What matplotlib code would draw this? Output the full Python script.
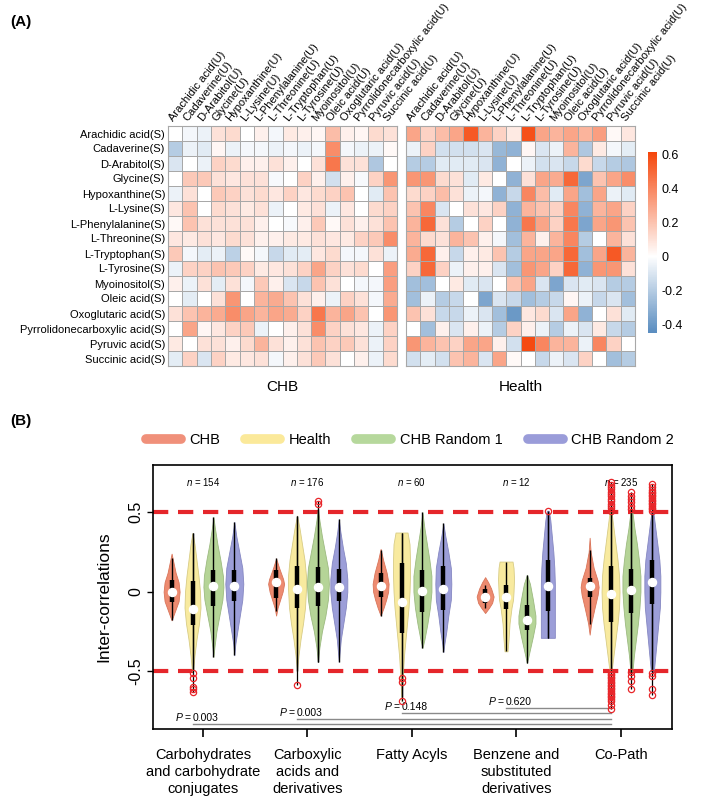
import numpy as np
import matplotlib
matplotlib.use('Agg')
import matplotlib.pyplot as plt
from matplotlib.colors import LinearSegmentedColormap, Normalize
from matplotlib.cm import ScalarMappable
from matplotlib.lines import Line2D

plt.rcParams['font.family'] = ['Liberation Sans', 'DejaVu Sans']
plt.rcParams['lines.scale_dashes'] = False
plt.rcParams['mathtext.fontset'] = 'custom'
plt.rcParams['mathtext.it'] = 'Liberation Sans:italic'
plt.rcParams['mathtext.rm'] = 'Liberation Sans'

# ---------------- data: heatmaps ----------------
metabolites = ['Arachidic acid', 'Cadaverine', 'D-Arabitol', 'Glycine', 'Hypoxanthine',
               'L-Lysine', 'L-Phenylalanine', 'L-Threonine', 'L-Tryptophan', 'L-Tyrosine',
               'Myoinositol', 'Oleic acid', 'Oxoglutaric acid', 'Pyrrolidonecarboxylic acid',
               'Pyruvic acid', 'Succinic acid']
row_labels = [m + '(S)' for m in metabolites]
col_labels = [m + '(U)' for m in metabolites]

chb = np.array([
    [0.00, -0.03, -0.05, 0.10, 0.12, 0.00, 0.05, -0.03, 0.07, 0.05, 0.03, 0.22, 0.05, 0.03, 0.12, 0.10],
    [-0.20, -0.05, -0.08, 0.03, -0.05, -0.03, -0.03, -0.05, -0.03, -0.05, -0.03, 0.38, -0.03, -0.05, -0.05, 0.02],
    [-0.10, 0.00, -0.05, 0.15, 0.12, 0.05, 0.05, 0.10, 0.05, 0.00, 0.10, 0.45, 0.10, 0.10, -0.22, 0.00],
    [0.00, 0.18, 0.18, 0.10, 0.08, 0.10, 0.10, -0.02, 0.00, 0.15, 0.05, -0.12, 0.05, -0.02, 0.15, 0.35],
    [-0.05, 0.10, 0.00, 0.18, 0.15, 0.10, 0.12, 0.08, 0.15, 0.08, 0.12, 0.15, 0.20, 0.00, -0.08, 0.20],
    [0.08, 0.20, 0.00, 0.12, 0.10, 0.07, 0.10, -0.05, 0.00, 0.07, 0.10, -0.05, 0.08, 0.00, 0.12, 0.15],
    [0.02, 0.20, 0.10, 0.10, 0.10, 0.10, 0.05, 0.00, -0.02, 0.05, 0.18, 0.02, 0.10, 0.05, 0.10, 0.20],
    [0.08, 0.07, 0.10, 0.08, 0.12, 0.10, 0.05, 0.05, 0.07, 0.07, 0.10, 0.08, 0.07, 0.15, 0.18, 0.38],
    [0.18, -0.03, -0.07, -0.05, -0.18, 0.02, -0.03, -0.15, -0.08, -0.07, 0.08, 0.12, -0.03, -0.03, 0.10, -0.05],
    [-0.05, 0.15, 0.15, 0.20, 0.18, 0.15, 0.07, 0.08, 0.10, 0.15, 0.30, 0.15, 0.10, 0.12, 0.00, 0.32],
    [0.05, -0.05, 0.10, -0.07, 0.10, -0.03, 0.18, 0.05, -0.10, -0.15, 0.20, 0.10, 0.00, -0.03, -0.03, 0.32],
    [0.00, -0.07, 0.00, 0.10, 0.35, 0.00, 0.25, 0.28, 0.20, 0.10, 0.05, -0.05, 0.15, 0.10, -0.03, 0.28],
    [0.10, 0.20, 0.25, 0.28, 0.38, 0.30, 0.25, 0.30, 0.28, 0.15, 0.45, 0.25, 0.30, 0.20, 0.00, 0.35],
    [0.00, 0.30, 0.03, 0.08, 0.15, 0.18, -0.05, 0.00, 0.05, 0.10, 0.38, 0.15, 0.10, 0.08, -0.05, 0.15],
    [0.07, 0.00, 0.10, 0.10, 0.05, 0.12, 0.25, 0.10, 0.05, 0.10, 0.20, 0.15, 0.18, 0.10, -0.05, 0.15],
    [-0.07, 0.15, -0.10, 0.15, 0.07, 0.08, 0.10, -0.03, 0.05, 0.10, 0.18, 0.10, 0.00, 0.05, -0.05, 0.12],
])

health = np.array([
    [0.30, 0.15, 0.22, 0.30, 0.55, 0.25, 0.15, 0.07, 0.58, 0.30, 0.25, 0.30, 0.25, 0.32, 0.02, 0.08],
    [-0.05, 0.15, -0.12, -0.12, -0.12, -0.10, -0.28, -0.30, 0.03, -0.10, -0.05, 0.25, -0.22, 0.07, -0.03, -0.07],
    [-0.20, -0.20, -0.08, -0.08, -0.08, -0.10, -0.30, 0.00, -0.05, -0.12, -0.10, -0.15, 0.12, -0.15, -0.20, -0.22],
    [0.35, 0.35, 0.12, 0.10, -0.08, 0.07, 0.00, -0.30, 0.10, 0.30, 0.28, 0.50, -0.35, 0.20, 0.30, 0.38],
    [0.12, 0.15, 0.22, 0.10, -0.05, -0.03, -0.30, -0.15, 0.40, 0.22, -0.08, 0.30, -0.25, 0.30, -0.05, -0.08],
    [0.20, 0.40, -0.10, 0.00, 0.10, 0.08, 0.15, -0.30, 0.25, 0.20, 0.15, 0.40, -0.30, 0.25, 0.30, 0.15],
    [0.25, 0.50, 0.10, -0.20, 0.00, 0.15, 0.00, -0.30, 0.45, 0.30, 0.15, 0.45, -0.35, 0.30, 0.35, 0.20],
    [0.25, 0.12, 0.10, 0.25, 0.20, 0.05, -0.03, -0.25, 0.25, 0.05, 0.25, 0.40, -0.20, 0.00, 0.25, 0.10],
    [0.28, 0.50, 0.05, -0.15, 0.05, 0.07, 0.20, -0.20, 0.30, 0.30, 0.30, 0.50, -0.25, 0.30, 0.55, 0.25],
    [0.15, 0.50, 0.15, -0.05, 0.05, 0.05, -0.10, -0.25, 0.35, 0.30, 0.15, 0.50, -0.30, 0.35, 0.35, 0.10],
    [-0.25, -0.25, 0.00, 0.07, -0.08, -0.10, 0.00, 0.20, 0.30, -0.10, -0.35, -0.10, -0.08, -0.10, -0.20, -0.20],
    [-0.25, -0.05, -0.20, -0.15, 0.00, -0.35, -0.10, -0.15, -0.25, -0.20, -0.15, 0.03, -0.05, -0.15, -0.10, -0.25],
    [0.20, 0.10, -0.15, -0.15, -0.05, -0.10, -0.25, -0.40, 0.08, 0.12, -0.10, 0.30, -0.30, 0.00, 0.10, -0.08],
    [0.00, -0.25, 0.05, -0.10, 0.05, -0.05, -0.20, 0.15, 0.05, -0.05, -0.20, -0.05, -0.10, 0.07, -0.15, -0.20],
    [0.35, 0.25, 0.20, 0.15, 0.30, 0.30, 0.05, -0.12, 0.60, 0.40, 0.25, 0.25, -0.05, 0.40, 0.15, 0.00],
    [-0.12, -0.07, -0.12, 0.20, 0.25, -0.10, 0.30, 0.02, 0.00, -0.15, -0.05, -0.10, 0.15, 0.00, -0.25, -0.20],
])
cbar_ticks = [-0.4, -0.2, 0, 0.2, 0.4, 0.6]
cbar_ticklabels = ['-0.4', '-0.2', '0', '0.2', '0.4', '0.6']

# ---------------- data: violins ----------------
groups = ['Carbohydrates\nand carbohydrate\nconjugates', 'Carboxylic\nacids and\nderivatives',
          'Fatty Acyls', 'Benzene and\nsubstituted\nderivatives', 'Co-Path']
series = ['CHB', 'Health', 'CHB Random 1', 'CHB Random 2']
n_counts = [154, 176, 60, 12, 235]

# density profiles: (value, relative density) per group
chb_prof = [
    [(0.24, 0), (0.18, 2), (0.12, 4), (0.06, 7), (0.0, 8), (-0.06, 7), (-0.12, 3.5), (-0.18, 0)],
    [(0.21, 0), (0.15, 3), (0.08, 7), (0.05, 8), (0.0, 6.5), (-0.05, 4), (-0.1, 1.5), (-0.15, 0)],
    [(0.27, 0), (0.2, 2.5), (0.12, 6), (0.05, 8), (0.0, 7.5), (-0.05, 5.5), (-0.1, 3), (-0.15, 0)],
    [(0.092, 0), (0.06, 3), (0.02, 6), (-0.03, 8.5), (-0.07, 7), (-0.1, 4), (-0.134, 0)],
    [(0.34, 0), (0.25, 1), (0.15, 4), (0.07, 8), (0.03, 9), (-0.02, 8), (-0.1, 5), (-0.2, 1.5), (-0.27, 0)],
]
health_prof = [
    [(0.37, 0), (0.3, 2), (0.2, 4), (0.1, 6), (0.0, 7.5), (-0.1, 8), (-0.2, 6.5), (-0.3, 4), (-0.4, 2), (-0.5, 0.5)],
    [(0.48, 0), (0.4, 2.5), (0.3, 5), (0.2, 7.5), (0.1, 9), (0.02, 9), (-0.1, 8), (-0.2, 6), (-0.3, 3.5), (-0.4, 1.5), (-0.5, 0)],
    [(0.373, 6), (0.3, 8), (0.2, 8.5), (0.1, 8.5), (0.0, 8), (-0.1, 7), (-0.2, 5.5), (-0.3, 4), (-0.4, 2.5), (-0.5, 1.5), (-0.6, 0.7), (-0.69, 0)],
    [(0.19, 6.5), (0.15, 7.5), (0.08, 8), (0.0, 7.5), (-0.05, 7), (-0.1, 5.5), (-0.2, 3.5), (-0.3, 2.5), (-0.375, 1.5)],
    [(0.5, 1), (0.4, 3), (0.3, 5), (0.2, 7), (0.1, 8.5), (0.0, 9), (-0.1, 8.5), (-0.2, 7), (-0.3, 5), (-0.4, 3), (-0.5, 1)],
]
r1_prof = [
    [(0.47, 0), (0.4, 1.5), (0.3, 4), (0.2, 7), (0.1, 9.5), (0.03, 10), (-0.05, 9), (-0.15, 6), (-0.25, 3), (-0.35, 1), (-0.41, 0)],
    [(0.52, 0), (0.45, 1.5), (0.35, 4), (0.25, 7), (0.15, 10), (0.05, 11), (-0.05, 10), (-0.15, 7.5), (-0.25, 4), (-0.35, 1.5), (-0.44, 0)],
    [(0.5, 0), (0.4, 2), (0.3, 4.5), (0.2, 7), (0.1, 9), (0.0, 9), (-0.1, 7.5), (-0.2, 5), (-0.3, 2), (-0.354, 0)],
    [(0.107, 0), (0.05, 3), (-0.05, 6), (-0.15, 8.5), (-0.2, 8.5), (-0.28, 6), (-0.35, 3.5), (-0.45, 0)],
    [(0.5, 1), (0.4, 3), (0.3, 5.5), (0.2, 7.5), (0.1, 9), (0.0, 9), (-0.1, 8), (-0.2, 6.5), (-0.3, 4.5), (-0.4, 2.5), (-0.5, 1)],
]
r2_prof = [
    [(0.44, 0), (0.35, 2), (0.25, 5), (0.15, 8), (0.05, 9), (-0.05, 8), (-0.15, 5.5), (-0.25, 3), (-0.33, 1), (-0.40, 0)],
    [(0.457, 0), (0.38, 1.5), (0.28, 4), (0.18, 7), (0.08, 8.5), (0.0, 8.5), (-0.1, 7), (-0.2, 4.5), (-0.3, 2), (-0.44, 0)],
    [(0.43, 0), (0.35, 2), (0.25, 5), (0.15, 7.5), (0.05, 8), (-0.05, 7.5), (-0.15, 5), (-0.25, 3), (-0.33, 1), (-0.38, 0)],
    [(0.51, 1), (0.45, 2.5), (0.35, 4), (0.25, 5.5), (0.15, 6.5), (0.05, 7), (-0.05, 7), (-0.15, 7), (-0.25, 7), (-0.29, 7)],
    [(0.5, 1), (0.4, 3), (0.3, 5), (0.2, 7), (0.1, 8), (0.0, 8), (-0.1, 7.5), (-0.2, 6), (-0.3, 4.5), (-0.4, 3), (-0.5, 1.5)],
]

# box stats: (whisker low, q1, median, q3, whisker high)
chb_box = [(-0.175, -0.065, 0.0, 0.075, 0.21), (-0.12, -0.04, 0.059, 0.138, 0.21),
           (-0.15, -0.03, 0.034, 0.117, 0.26), (-0.10, -0.07, -0.036, 0.02, 0.04),
           (-0.2, -0.03, 0.038, 0.086, 0.26)]
health_box = [(-0.5, -0.21, -0.107, 0.07, 0.37), (-0.5, -0.1, 0.017, 0.16, 0.478),
              (-0.66, -0.26, -0.067, 0.18, 0.373), (-0.375, -0.11, -0.03, 0.044, 0.19),
              (-0.5, -0.19, -0.015, 0.16, 0.5)]
r1_box = [(-0.41, -0.09, 0.034, 0.14, 0.47), (-0.44, -0.088, 0.027, 0.155, 0.52),
          (-0.354, -0.13, 0.006, 0.138, 0.5), (-0.45, -0.24, -0.18, -0.082, 0.107),
          (-0.5, -0.134, 0.013, 0.143, 0.5)]
r2_box = [(-0.40, -0.06, 0.034, 0.14, 0.44), (-0.44, -0.06, 0.027, 0.145, 0.457),
          (-0.38, -0.113, 0.017, 0.16, 0.43), (-0.29, -0.124, 0.034, 0.2, 0.5),
          (-0.5, -0.08, 0.06, 0.2, 0.5)]

chb_out = [[], [], [], [], []]
health_out = [[-0.51, -0.54, -0.60, -0.615, -0.63], [-0.585], [-0.54, -0.57, -0.69], [],
              [0.51, 0.525, 0.54, 0.555, 0.57, 0.585, 0.60, 0.615, 0.63, 0.645, 0.66, 0.675, 0.69,
               -0.505, -0.515, -0.525, -0.535, -0.545, -0.555, -0.565, -0.575, -0.585, -0.595,
               -0.605, -0.615, -0.625, -0.635, -0.645, -0.655, -0.665, -0.675, -0.69, -0.715, -0.74]]
r1_out = [[], [0.555, 0.572], [], [],
          [0.52, 0.541, 0.562, 0.583, 0.605, 0.63, -0.507, -0.532, -0.564, -0.612]]
r2_out = [[], [], [], [0.51],
          [0.51, 0.52, 0.53, 0.54, 0.55, 0.56, 0.57, 0.58, 0.59, 0.60, 0.61, 0.62, 0.63, 0.64, 0.66, 0.68,
           -0.512, -0.532, -0.612, -0.648]]

p_labels = ['0.003', '0.003', '0.148', '0.620']
p_levels = [-0.832, -0.80, -0.763, -0.733]

# ---------------- figure ----------------
W, H = 706, 805
fig = plt.figure(figsize=(W / 100, H / 100), dpi=100)

def fx(px):
    return px / W

def fy(py):
    return 1 - py / H

cmap = LinearSegmentedColormap.from_list(
    'rb', [(0.0, '#5a8dc0'), (0.45 / 1.07, '#ffffff'), (1.0, '#f5450a')])
norm = Normalize(-0.45, 0.62)

hm_top, hm_bot = 126, 366
for left, data, title in [(168, chb, 'CHB'), (406, health, 'Health')]:
    ax = fig.add_axes([fx(left), fy(hm_bot), fx(229), (hm_bot - hm_top) / H])
    ax.pcolormesh(np.arange(17), np.arange(17), data, cmap=cmap, norm=norm,
                  edgecolors='#a8a8a8', linewidth=0.7)
    ax.set_xlim(0, 16)
    ax.set_ylim(16, 0)
    ax.xaxis.tick_top()
    ax.set_xticks(np.arange(16) + 0.5)
    ax.set_xticklabels(col_labels, rotation=52, ha='left', va='bottom',
                       rotation_mode='anchor', fontsize=8)
    ax.set_yticks(np.arange(16) + 0.5)
    if title == 'CHB':
        ax.set_yticklabels(row_labels, fontsize=8)
    else:
        ax.set_yticklabels([])
    ax.tick_params(length=0, pad=2)
    for s in ax.spines.values():
        s.set_color('#a8a8a8')
        s.set_linewidth(0.8)
    ax.text(8, 16 + 1.4, title, ha='center', va='center', fontsize=11)

cax = fig.add_axes([fx(648), fy(332.5), fx(9), (332.5 - 151.6) / H])
cb = fig.colorbar(ScalarMappable(norm=norm, cmap=cmap), cax=cax)
cb.outline.set_visible(False)
cb.set_ticks(cbar_ticks)
cb.set_ticklabels(cbar_ticklabels)
cax.tick_params(length=0, labelsize=9, pad=3)

fig.text(fx(10), fy(22), '(A)', fontsize=11, fontweight='bold', va='center', ha='left')
fig.text(fx(10), fy(421), '(B)', fontsize=11, fontweight='bold', va='center', ha='left')

# ---------------- violin panel ----------------
vax = fig.add_axes([fx(153), fy(729), fx(519), (729 - 465) / H])
vax.set_xlim(0.522, 5.488)
vax.set_ylim(-0.864, 0.798)
px_per_unit = 519 / (5.488 - 0.522)

face = ['#ed8b70', '#f8ea9f', '#b5d497', '#9c9ed8']
edge = ['#d9755a', '#d8cc85', '#9cba80', '#8587c2']
offsets = [-0.3, -0.1, 0.1, 0.3]
profs = [chb_prof, health_prof, r1_prof, r2_prof]
boxes = [chb_box, health_box, r1_box, r2_box]
outs = [chb_out, health_out, r1_out, r2_out]

for si in range(4):
    for gi in range(5):
        pos = gi + 1 + offsets[si]
        prof = profs[si][gi]
        ys = np.array([p[0] for p in prof])
        ds = np.array([p[1] for p in prof], dtype=float)
        wlo, q1, med, q3, whi = boxes[si][gi]
        stats = [dict(coords=ys, vals=ds, mean=med, median=med, min=ys.min(), max=ys.max())]
        width = 2 * ds.max() / px_per_unit
        parts = vax.violin(stats, positions=[pos], widths=[width], showmeans=False,
                           showextrema=False, showmedians=False)
        for b in parts['bodies']:
            b.set_facecolor(face[si])
            b.set_edgecolor(edge[si])
            b.set_linewidth(0.6)
            b.set_alpha(1)
            b.set_zorder(2)
        if outs[si][gi]:
            o = np.array(outs[si][gi])
            lo = min(wlo, o.min())
            hi = max(whi, o.max())
            vax.vlines(pos, lo, hi, color='black', lw=0.9, zorder=3)
            vax.plot(np.full(len(o), pos), o, 'o', ms=4.5, mfc='none', mec='#e8262a',
                     mew=0.9, zorder=4)
        vax.vlines(pos, wlo, whi, color='black', lw=1.0, zorder=3)
        vax.vlines(pos, q1, q3, color='black', lw=3.2, zorder=3)
        vax.plot([pos], [med], 'o', ms=5.8, color='white', mec='white', zorder=5)

for yv in (0.5, -0.5):
    vax.axhline(yv, color='#e5262b', lw=3.0, dashes=(11, 7), zorder=1.5)

for gi, n in enumerate(n_counts):
    vax.text(gi + 1, 0.69, r'$n$ = %d' % n, ha='center', va='center', fontsize=7)

end_x = 5 + offsets[1]
for gi in range(4):
    x0 = gi + 1 + offsets[1]
    yl = p_levels[gi]
    vax.plot([x0, end_x], [yl, yl], color='#8a8a8a', lw=1.0, zorder=1)
    vax.text(x0, yl + 0.008, r'$P$ = ', ha='right', va='bottom', fontsize=7.5)
    vax.text(x0, yl + 0.008, p_labels[gi], ha='left', va='bottom', fontsize=7.5)

vax.set_xticks(np.arange(1, 6))
vax.set_xticklabels(groups, fontsize=10.5, linespacing=1.25)
vax.set_yticks([-0.5, 0, 0.5])
vax.set_yticklabels(['-0.5', '0', '0.5'], rotation=90, va='center', fontsize=11.5)
vax.tick_params(axis='x', length=6, width=1.2, pad=8)
vax.tick_params(axis='y', length=4, width=1.0, pad=3)
for s in vax.spines.values():
    s.set_linewidth(1.2)
vax.set_ylabel('Inter-correlations', fontsize=12.5, labelpad=12)

handles = [Line2D([], [], color=c, lw=7, solid_capstyle='round') for c in
           ['#f0907a', '#fbe99a', '#b6d89c', '#9a9cd9']]
vax.legend(handles, series, ncol=4, loc='center', bbox_to_anchor=(fx(410), fy(440)),
           bbox_transform=fig.transFigure, frameon=False, fontsize=10.5,
           handlelength=2.4, handletextpad=0.6, columnspacing=1.7)

fig.savefig('out.png', dpi=100)
